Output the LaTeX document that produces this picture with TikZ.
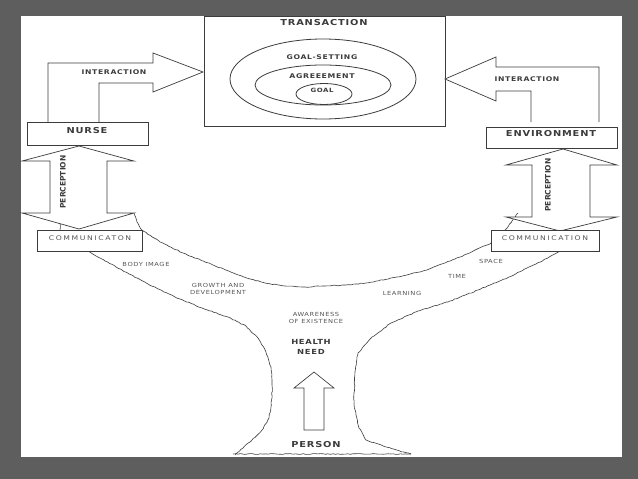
\documentclass[tikz,border=0pt]{standalone}
\usepackage{fontspec}
\setmainfont{DejaVu Sans}
\newfontfamily\widefont[FakeStretch=1.2, LetterSpace=10]{DejaVu Sans}
\newfontfamily\spacedfont[FakeStretch=1.2, LetterSpace=25]{DejaVu Sans}
\newfontfamily\plainfont{DejaVu Sans}
\usetikzlibrary{shapes.geometric, decorations.pathmorphing}
\definecolor{slate}{HTML}{5E5E5E}
\definecolor{ink}{HTML}{3C3C3C}
\definecolor{softink}{HTML}{555555}
\tikzstyle{rectblock} = [rectangle, draw=ink, line width=0.8pt, fill=white, inner sep=0pt]
\tikzstyle{ring} = [ellipse, draw=ink, line width=0.8pt, inner sep=0pt]
\tikzstyle{fatarrow} = [draw=ink, line width=0.7pt, fill=white, line join=miter]
\tikzstyle{rough} = [draw=ink, line width=0.6pt, line join=round, decorate, decoration={random steps, segment length=2.5pt, amplitude=0.45pt}]
\tikzstyle{bigtext} = [font=\widefont\bfseries\fontsize{8.2}{9}\selectfont, text=ink, align=center]
\tikzstyle{midtext} = [font=\widefont\bfseries\fontsize{6.4}{7}\selectfont, text=ink, align=center]
\tikzstyle{smalltext} = [font=\widefont\fontsize{5.6}{7.6}\selectfont, text=softink, align=center]
\tikzstyle{commtext} = [font=\spacedfont\fontsize{6.4}{7}\selectfont, text=softink]
\tikzstyle{sidetext} = [font=\plainfont\bfseries\fontsize{7.5}{8}\selectfont, text=ink, rotate=90]

\begin{document}
\begin{tikzpicture}[x=1pt, y=-1pt]
    \pgfmathsetseed{11}
    % frame
    \fill[slate] (0,0) rectangle (638,479);
    \useasboundingbox (0,0) rectangle (638,479);
    \fill[white] (21,16) rectangle (622,457);

    % transaction
    \node[rectblock, minimum width=241, minimum height=110, anchor=north west] at (204,16) (transaction) {};
    \node[bigtext] at (324,23) (transtitle) {TRANSACTION};
    \node[ring, minimum width=186, minimum height=80] at (323,79) (goalsetting) {};
    \node[ring, minimum width=136, minimum height=40] at (323,85) (agreement) {};
    \node[ring, minimum width=56, minimum height=21] at (324,94) (goal) {};
    \node[midtext] at (322,57) {GOAL-SETTING};
    \node[midtext, font=\widefont\bfseries\fontsize{6.5}{7}\selectfont] at (322,76) {AGREEEMENT};
    \node[midtext, font=\widefont\bfseries\fontsize{5.8}{7}\selectfont] at (322,90) {GOAL};

    % interaction arrows
    \draw[fatarrow] (48,122) -- (48,63) -- (153,63) -- (153,53) -- (203,72) -- (153,92) -- (153,83) -- (99,83) -- (99,122);
    \node[midtext] at (114,72) {INTERACTION};
    \draw[fatarrow] (599,122) -- (599,67) -- (496,67) -- (496,57) -- (445,79) -- (496,101) -- (496,91) -- (531,91) -- (531,122);
    \node[midtext] at (527,79) {INTERACTION};

    % nurse / environment
    \node[rectblock, minimum width=121, minimum height=23] at (87.5,133.5) (nurse) {};
    \node[bigtext] at (87,131) {NURSE};
    \node[rectblock, minimum width=131, minimum height=21] at (551.5,137.5) (environment) {};
    \node[bigtext] at (551,134) {ENVIRONMENT};

    % funnel
    \draw[rough] (88,251) -- (105,261) -- (122,270) -- (148,284) -- (175,297) -- (202,308) -- (228,317) -- (246,326) -- (258,338) -- (266,352) -- (271,367) -- (272,381) -- (272,395) -- (271,407) -- (269,418) -- (262,430) -- (252,440) -- (243,448) -- (235,455);
    \draw[rough] (233,454) -- (411,454);
    \draw[rough] (411,454) -- (386,447) -- (366,440) -- (359,428) -- (356,415) -- (354,404) -- (354,393) -- (355,372) -- (358,353) -- (372,337) -- (391,323) -- (418,311) -- (448,302) -- (478,290) -- (509,277) -- (536,264) -- (561,251);
    \draw[rough] (134,213) -- (137,222) -- (142,230) -- (160,242) -- (183,253) -- (213,265) -- (244,277) -- (265,283) -- (285,286) -- (305,287) -- (325,286) -- (346,285) -- (366,283) -- (397,277) -- (427,270) -- (460,257) -- (491,243) -- (499,237) -- (505,230) -- (512,221) -- (518,213);
    \draw[rough] (60,223) -- (60,230);

    % perception arrows
    \draw[fatarrow] (79,146) -- (134,161) -- (107,161) -- (107,213) -- (134,213) -- (79,229) -- (22,213) -- (50,213) -- (50,161) -- (22,161) -- cycle;
    \node[sidetext] at (63,182) {PERCEPTION};
    \draw[fatarrow] (563,149) -- (617,165) -- (590,165) -- (590,217) -- (617,217) -- (560,231) -- (506,217) -- (532,217) -- (532,165) -- (506,165) -- cycle;
    \node[sidetext] at (548,185) {PERCEPTION};

    % communication
    \node[rectblock, minimum width=105, minimum height=21] at (89.5,240.5) (commleft) {};
    \node[commtext] at (90,238) {COMMUNICATON};
    \node[rectblock, minimum width=108, minimum height=21] at (545,240.5) (commright) {};
    \node[commtext] at (545,238) {COMMUNICATION};

    % inner labels
    \node[smalltext] at (146,264) {BODY IMAGE};
    \node[smalltext] at (218,289) {GROWTH AND\\DEVELOPMENT};
    \node[smalltext] at (491,261) {SPACE};
    \node[smalltext] at (457,276) {TIME};
    \node[smalltext] at (402,293) {LEARNING};
    \node[smalltext] at (316,318) {AWARENESS\\OF EXISTENCE};
    \node[bigtext, font=\widefont\bfseries\fontsize{7}{9.5}\selectfont] at (311,347) (health) {HEALTH\\NEED};

    % person
    \draw[fatarrow] (314,372) -- (334,388) -- (324,388) -- (324,430) -- (304,430) -- (304,388) -- (294,388) -- cycle;
    \node[bigtext] at (316,445) (person) {PERSON};
\end{tikzpicture}
\end{document}
